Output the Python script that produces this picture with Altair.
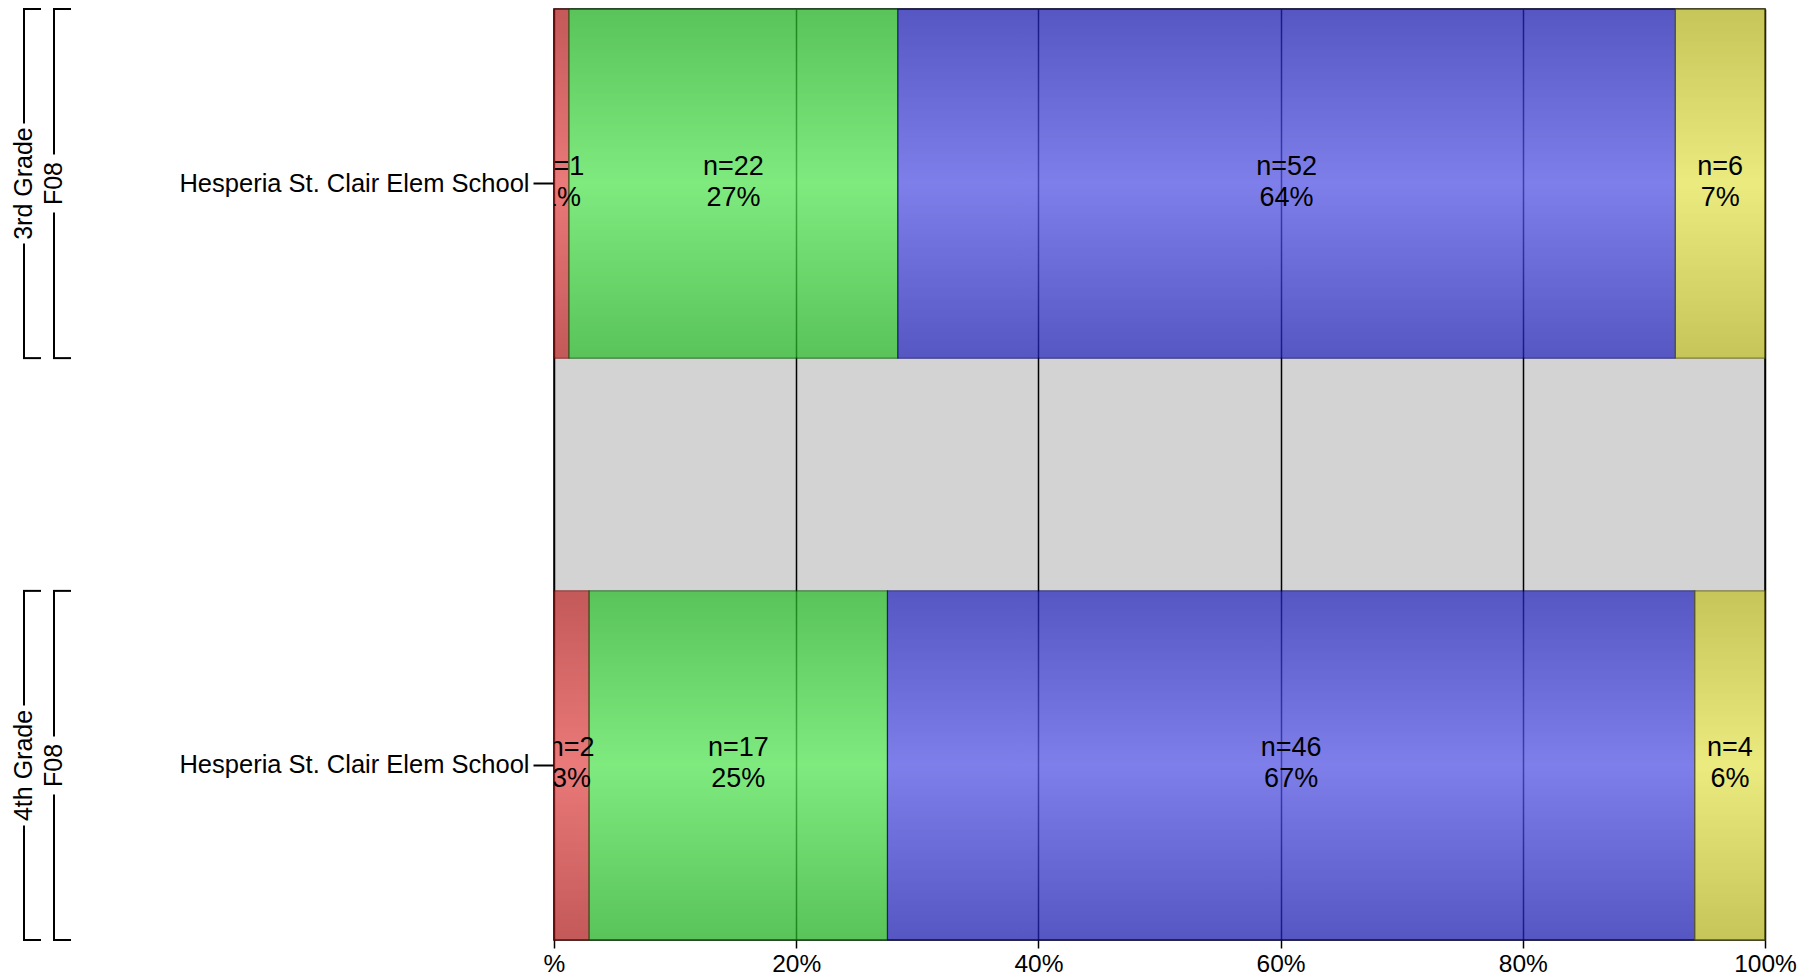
import altair as alt
import pandas as pd

# ---- data ----
grades = ["3rd Grade", "4th Grade"]
terms = ["F08", "F08"]
schools = ["Hesperia St. Clair Elem School", "Hesperia St. Clair Elem School"]
levels = ["Level 1", "Level 2", "Level 3", "Level 4"]
counts_3rd = [1, 22, 52, 6]
counts_4th = [2, 17, 46, 4]
tick_values = [0, 0.2, 0.4, 0.6, 0.8, 1.0]

# colour styling per level: (edge colour of gradient, centre colour, stroke)
level_styles = {
    "Level 1": ("#be2626", "#f55454", "#7a0000"),
    "Level 2": ("#26be26", "#5cf55c", "#005a00"),
    "Level 3": ("#2323be", "#5c5cf5", "#00006e"),
    "Level 4": ("#c0c026", "#f5f55c", "#5a5a00"),
}

FONT = "Liberation Sans"

rows = []
for g, t, s, counts in zip(grades, terms, schools, [counts_3rd, counts_4th]):
    total = sum(counts)
    cum = 0
    key = f"{g}|{t}|{s}"
    for lvl, n in zip(levels, counts):
        frac = n / total
        rows.append({
            "row": key,
            "grade": g,
            "term": t,
            "level": lvl,
            "n": n,
            "x0": cum / total,
            "x1": (cum + n) / total,
            "mid": (cum + n / 2) / total,
            "label": f"n={n}\n{round(frac * 100)}%",
        })
        cum += n
df = pd.DataFrame(rows)
row_keys = [f"{g}|{t}|{s}" for g, t, s in zip(grades, terms, schools)]
meta = pd.DataFrame({"row": row_keys, "grade": grades, "term": terms})

yscale = alt.Scale(domain=row_keys, paddingInner=0.4, paddingOuter=0)
xscale = alt.Scale(domain=[0, 1], nice=False, zero=True)

yaxis = alt.Axis(
    title=None,
    labelExpr="split(datum.label, '|')[2]",
    labelFontSize=25.5,
    labelFont=FONT,
    labelColor="black",
    labelLimit=0,
    labelPadding=4,
    tickSize=21,
    tickColor="black",
    tickWidth=2,
    domain=False,
    grid=False,
)
xaxis = alt.Axis(
    title=None,
    values=tick_values,
    labelExpr="datum.value == 0 ? '%' : format(datum.value, '.0%')",
    labelFontSize=24.5,
    labelFont=FONT,
    labelColor="black",
    labelPadding=4,
    labelFlush=False,
    tickSize=8,
    tickColor="black",
    tickWidth=1.5,
    domain=False,
    grid=True,
    gridColor="black",
    gridWidth=1.5,
    gridOpacity=1,
)

layers = []
for lvl in levels:
    edge, centre, stroke = level_styles[lvl]
    grad = alt.Gradient(
        gradient="linear",
        stops=[
            alt.GradientStop(color=edge, offset=0),
            alt.GradientStop(color=centre, offset=0.5),
            alt.GradientStop(color=edge, offset=1),
        ],
        x1=0, x2=0, y1=0, y2=1,
    )
    layer = alt.Chart(df).transform_filter(
        alt.datum.level == lvl
    ).mark_bar(
        color=grad, opacity=0.7, stroke=stroke, strokeWidth=1.2
    ).encode(
        x=alt.X("x0:Q", scale=xscale, axis=xaxis),
        x2="x1:Q",
        y=alt.Y("row:N", scale=yscale, axis=yaxis),
    )
    layers.append(layer)

text = alt.Chart(df).mark_text(
    font=FONT, fontSize=27, lineBreak="\n", lineHeight=31, dy=-17,
    align="center", baseline="middle", color="black", clip=True,
).encode(
    x=alt.X("mid:Q", scale=xscale, axis=xaxis),
    y=alt.Y("row:N", scale=yscale, axis=yaxis),
    text="label:N",
)
layers.append(text)

# ---- left-side brackets with grade / term labels ----
OUT_X = -530
IN_X = -500
for lx, mask_h, field in [(OUT_X, 120, "grade"), (IN_X, 58, "term")]:
    vline = alt.Chart(meta).mark_bar(color="black").encode(
        x=alt.value(lx - 1), x2=alt.value(lx + 1),
        y=alt.Y("row:N", scale=yscale, axis=yaxis),
    )
    top = alt.Chart(meta).mark_rule(color="black", strokeWidth=2).encode(
        x=alt.value(lx - 1), x2=alt.value(lx + 17),
        y=alt.Y("row:N", scale=yscale, axis=yaxis, bandPosition=0),
    )
    bot = alt.Chart(meta).mark_rule(color="black", strokeWidth=2).encode(
        x=alt.value(lx - 1), x2=alt.value(lx + 17),
        y=alt.Y("row:N", scale=yscale, axis=yaxis, bandPosition=1),
    )
    mask = alt.Chart(meta).mark_bar(color="white", height=mask_h).encode(
        x=alt.value(lx - 14), x2=alt.value(lx + 14),
        y=alt.Y("row:N", scale=yscale, axis=yaxis),
    )
    lab = alt.Chart(meta).mark_text(
        font=FONT, fontSize=25, angle=270, align="center", baseline="middle",
        color="black",
    ).encode(
        x=alt.value(lx),
        y=alt.Y("row:N", scale=yscale, axis=yaxis),
        text=f"{field}:N",
    )
    layers += [vline, top, bot, mask, lab]

chart = alt.layer(*layers).properties(
    width=1211, height=931,
    padding={"left": 2, "top": 0, "right": 5, "bottom": 0},
).configure_view(
    fill="#d3d3d3", stroke="black", strokeWidth=1.5,
)

chart.save("out.html", embed_options={"renderer": "svg", "actions": False})
